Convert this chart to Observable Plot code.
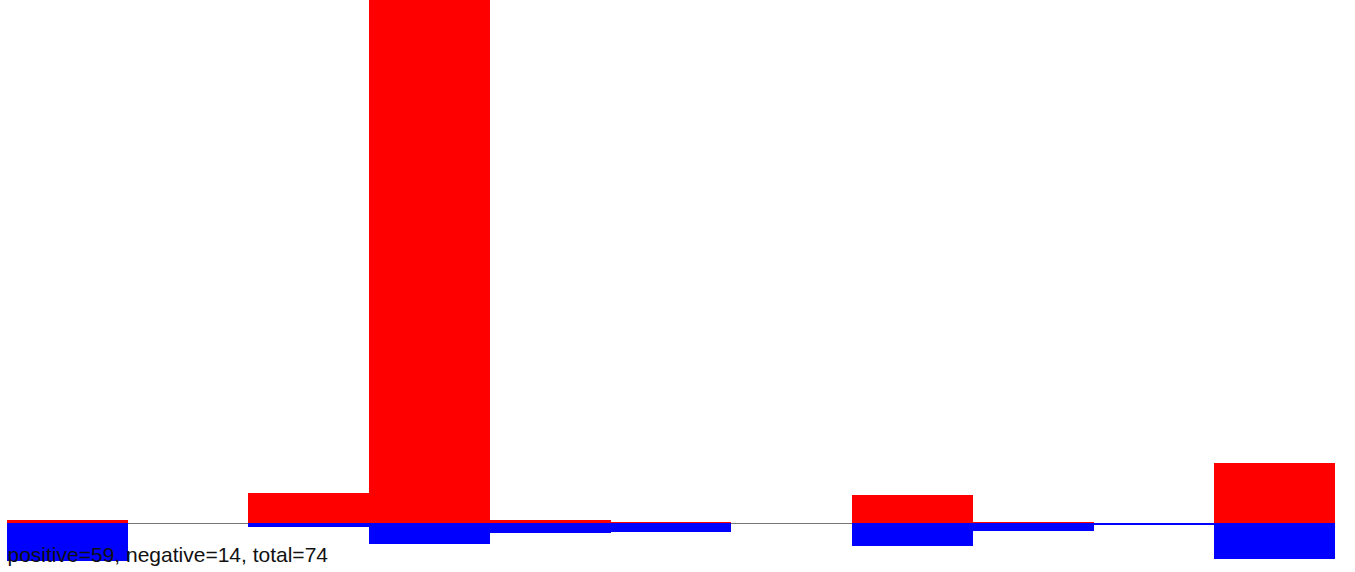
<!DOCTYPE html>
<html>
<head>
<meta charset="utf-8">
<script src="https://cdn.jsdelivr.net/npm/d3@7"></script>
<script src="https://cdn.jsdelivr.net/npm/@observablehq/plot@0.6"></script>
<style>
  html, body { margin: 0; padding: 0; background: #fff; }
  #chart svg { display: block; }
</style>
</head>
<body>
<div id="chart"></div>
<script>
const categories = ["1", "2", "3", "4", "5", "6", "7", "8", "9", "10", "11"];
const positiveValues = [0.57, 0, 5.74, 100, 0.57, 0.19, 0, 5.35, 0.19, 0, 11.5];
const negativeValues = [-7.27, 0, -0.76, -3.96, -1.85, -1.72, 0, -4.34, -1.47, -0.44, -6.83];
const summaryText = "positive=59, negative=14, total=74";

const pos = categories.map((c, i) => ({category: c, value: positiveValues[i]}));
const neg = categories.map((c, i) => ({category: c, value: negativeValues[i]}));

const chart = Plot.plot({
  width: 1355,
  height: 572,
  marginLeft: 7,
  marginRight: 20,
  marginTop: 0,
  marginBottom: 0,
  style: {fontFamily: "Liberation Sans, Arial, sans-serif", background: "#fff"},
  x: {domain: categories, padding: 0, round: false, axis: null},
  y: {domain: [0, 100], range: [523, 0], axis: null},
  marks: [
    Plot.ruleY([0], {stroke: "#777"}),
    Plot.barY(pos, {x: "category", y: "value", fill: "red", shapeRendering: "crispEdges"}),
    Plot.barY(neg, {x: "category", y: "value", fill: "blue", shapeRendering: "crispEdges"}),
    Plot.text([summaryText], {
      frameAnchor: "bottom-left",
      textAnchor: "start",
      lineAnchor: "bottom",
      dy: -11,
      fontSize: 21,
      fill: "#111",
      text: d => d
    })
  ]
});
document.getElementById("chart").appendChild(chart);
</script>
</body>
</html>
